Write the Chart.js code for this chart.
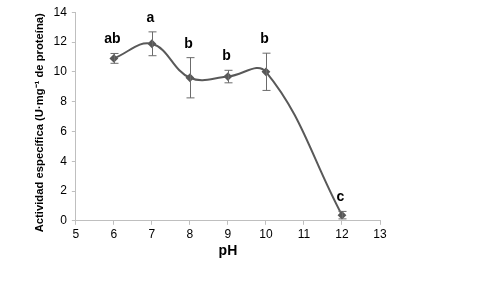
<!DOCTYPE html>
<html>
<head>
  <script src="https://cdn.jsdelivr.net/npm/chart.js"></script>
  <style>
    body { margin: 0; background: #fff; }
    #wrap { width: 500px; height: 292px; }
  </style>
</head>
<body>
  <div id="wrap"><canvas id="phChart"></canvas></div>
  <script>
    const phValues = [6, 7, 8, 9, 10, 12];
    const actividad = [10.9, 11.88, 9.6, 9.68, 10.0, 0.38];
    const errores = [0.33, 0.8, 1.35, 0.42, 1.25, 0.25];
    const letras = ['ab', 'a', 'b', 'b', 'b', 'c'];

    // barras de error y letras de significancia
    const errorBars = {
      id: 'errorBars',
      afterDatasetsDraw(chart) {
        const ctx = chart.ctx;
        const xs = chart.scales.x, ys = chart.scales.y;
        ctx.save();
        ctx.strokeStyle = '#6b6b6b';
        ctx.lineWidth = 1;
        phValues.forEach((ph, i) => {
          const x = Math.round(xs.getPixelForValue(ph)) + 0.5;
          const top = ys.getPixelForValue(actividad[i] + errores[i]);
          const bot = ys.getPixelForValue(Math.max(actividad[i] - errores[i], 0));
          ctx.beginPath();
          ctx.moveTo(x, top); ctx.lineTo(x, bot);
          ctx.moveTo(x - 4, top); ctx.lineTo(x + 4, top);
          ctx.moveTo(x - 4, bot); ctx.lineTo(x + 4, bot);
          ctx.stroke();
          ctx.fillStyle = '#000';
          ctx.font = 'bold 14px "Liberation Sans", Arial, sans-serif';
          ctx.textAlign = 'center';
          ctx.textBaseline = 'bottom';
          ctx.fillText(letras[i], x - 2, top - 7);
        });
        ctx.restore();
      }
    };

    new Chart(document.getElementById('phChart'), {
      type: 'line',
      data: {
        datasets: [{
          data: phValues.map((ph, i) => ({ x: ph, y: actividad[i] })),
          borderColor: '#595959',
          backgroundColor: '#595959',
          borderWidth: 2,
          tension: 0.4,
          pointStyle: 'rectRot',
          pointRadius: 3,
          fill: false
        }]
      },
      options: {
        responsive: true,
        maintainAspectRatio: false,
        animation: false,
        layout: { padding: { top: 9, right: 120, bottom: 32, left: 31 } },
        plugins: { legend: { display: false }, tooltip: { enabled: false } },
        scales: {
          x: {
            type: 'linear',
            min: 5, max: 13,
            ticks: { stepSize: 1, color: '#000', font: { size: 12, family: '"Liberation Sans", Arial' }, padding: 3 },
            grid: { drawOnChartArea: false, tickLength: 4, color: '#bfbfbf' },
            border: { color: '#bfbfbf' },
            title: { display: true, text: 'pH', color: '#000', padding: { top: -2, bottom: 0 },
                     font: { size: 14, weight: 'bold', family: '"Liberation Sans", Arial' } }
          },
          y: {
            min: 0, max: 14,
            ticks: { stepSize: 2, color: '#000', font: { size: 12, family: '"Liberation Sans", Arial' }, padding: 5 },
            grid: { drawOnChartArea: false, tickLength: 4, color: '#bfbfbf' },
            border: { color: '#bfbfbf' },
            title: { display: true, text: 'Actividad específica (U·mg⁻¹ de proteína)\u00a0\u00a0\u00a0\u00a0', color: '#000', padding: 2,
                     font: { size: 11.25, weight: 'bold', family: '"Liberation Sans", Arial' } }
          }
        }
      },
      plugins: [errorBars]
    });
  </script>
</body>
</html>
